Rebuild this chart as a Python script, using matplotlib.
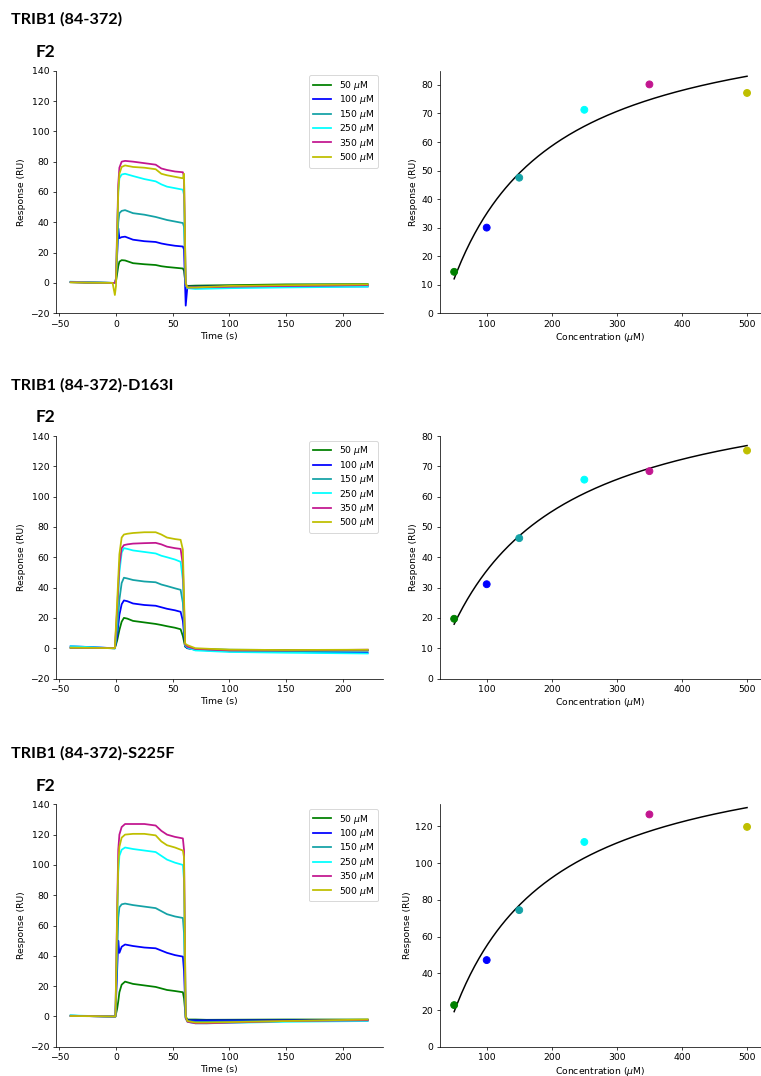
import numpy as np
import matplotlib
matplotlib.use("Agg")
import matplotlib.pyplot as plt

# ---------------------------------------------------------------- data
concentrations = [50, 100, 150, 250, 350, 500]          # analyte, uM
series_colors = ["green", "blue", "#14a2a6", "cyan", "#c2168f", "#bfbf00"]
panel_titles = ["TRIB1 (84-372)", "TRIB1 (84-372)-D163I", "TRIB1 (84-372)-S225F"]
channel_label = "F2"

# sensorgrams, wild type: time knots (s) and responses (RU) per concentration
time_wt = [-40, -20, -3, -1, 0, 1, 2, 3, 5, 8, 15, 25, 35, 40, 45, 52, 59, 60, 61.5, 63, 70, 100, 150, 222]
resp_wt_50 = [0.5, 0.2, 0, 0, 1, 6, 11, 14, 15, 14.8, 13, 12.3, 11.8, 11, 10.5, 10, 9.5, 8, -1.5, -2, -1.8, -1.5, -1, -0.8]
resp_wt_100 = [0.5, 0.2, 0, 0, 2, 18, 36, 29.5, 30.2, 30.5, 28.5, 27.5, 27, 26, 25.3, 24.5, 24, 22, -15, -2.5, -2.5, -2.3, -2.3, -2.3]
resp_wt_150 = [0.5, 0.2, 0, 0, 2, 20, 40, 46, 47.5, 48, 46, 45, 43.5, 42.5, 41.5, 40.5, 39.5, 37, -2, -3, -3, -2.5, -2, -1.5]
resp_wt_250 = [0.8, 0.3, 0, 0, 3, 30, 60, 69, 71.5, 72, 70.5, 68.5, 67, 65, 63.5, 62.5, 61.5, 58, -1, -3.5, -4, -3.5, -3, -2.5]
resp_wt_350 = [0.5, 0.2, 0, 0, 3, 35, 65, 76, 80, 80.5, 80, 79, 78, 75.5, 74.5, 73.5, 73, 70, -1, -3, -3, -2.5, -2, -1.5]
resp_wt_500 = [0.3, 0.1, 0, -8, -2, 30, 60, 72, 76.5, 77.5, 76.5, 76, 75, 72, 71, 70, 69, 72, 0, -3, -3, -2, -1.5, -1]

# sensorgrams, D163I
time_d163i = [-40, -20, -3, -1, 1, 3, 5, 7, 10, 15, 25, 35, 40, 45, 52, 57, 59, 61, 63, 70, 100, 150, 222]
resp_d163i_50 = [0.3, 0.2, 0, 0, 5, 12, 17.5, 20, 19.5, 18, 17, 16, 15.3, 14.5, 13.5, 12.5, 8, 1, 0, -0.5, -1, -1.2, -1.5]
resp_d163i_100 = [1.2, 0.7, 0, 0, 8, 22, 29, 31.5, 31, 29.5, 28.5, 28, 27, 26, 25, 24, 18, 1.5, 0, -1, -2, -2.5, -3]
resp_d163i_150 = [0.3, 0.2, 0, 0, 12, 32, 43, 46.5, 46, 45, 44, 43.5, 42, 41, 39.5, 38.5, 30, 2, 0.5, -1, -2, -2, -1.5]
resp_d163i_250 = [1.3, 0.6, 0, -0.3, 20, 50, 63, 66, 65.5, 64.5, 63.5, 62.5, 61, 60, 58.5, 57, 45, 2, 0.5, -1.5, -2.5, -3, -3.5]
resp_d163i_350 = [0.3, 0.2, 0, 0, 25, 55, 66, 68, 68.5, 69, 69.3, 69.5, 68.5, 67, 66, 65.5, 55, 2.5, 1, -0.5, -1.5, -1.5, -1]
resp_d163i_500 = [0.3, 0.2, 0, 0, 30, 62, 73, 75, 75.5, 76, 76.5, 76.5, 75, 73, 72, 71.5, 65, 3, 2, 0, -1, -1.2, -1]

# sensorgrams, S225F
time_s225f = [-40, -20, -2, -0.5, 1, 2, 3, 5, 8, 15, 25, 35, 40, 45, 52, 59, 60, 61.5, 63, 70, 80, 150, 222]
resp_s225f_50 = [0.5, 0.2, 0, 0, 5, 10, 16, 21, 23, 21.5, 20.5, 19.5, 18.5, 17.5, 16.8, 16, 12, 0, -2, -2, -2.2, -2, -2]
resp_s225f_100 = [0.5, 0.2, 0, 0, 30, 50, 42, 46, 47.5, 46.5, 45.5, 45, 43.5, 42, 40.5, 39.5, 30, -1, -2.5, -2.5, -2.5, -2.5, -2.5]
resp_s225f_150 = [0.5, 0.2, 0, 0, 40, 65, 72, 74, 74.5, 73.5, 72.5, 71.5, 69.5, 67.5, 66, 65, 55, -1, -3, -3.5, -3.5, -3, -2.5]
resp_s225f_250 = [0.7, 0.3, 0, 0, 60, 95, 106, 110, 111.5, 110.5, 109.5, 108.5, 106, 103.5, 101.5, 100, 90, -1, -3.5, -4.5, -4.5, -3.5, -3]
resp_s225f_350 = [0.3, 0.2, 0, 0, 70, 110, 120, 125, 127, 127, 127, 126, 122.5, 120, 118.5, 117.5, 110, -1, -3.5, -4.5, -4.5, -3, -2.5]
resp_s225f_500 = [0.3, 0.2, 0, 0, 65, 100, 112, 118, 120, 120.5, 120.5, 119.5, 115.5, 113, 111.5, 109.5, 105, 0, -3, -4, -4, -3, -2]

# steady-state responses (RU) per concentration
steady_wt = [14.5, 30.0, 47.5, 71.3, 80.2, 77.2]
steady_d163i = [19.7, 31.1, 46.3, 65.6, 68.4, 75.2]
steady_s225f = [22.7, 47.2, 74.4, 111.5, 126.5, 119.7]

# fitted binding isotherm parameters: Rmax (RU), KD (uM), offset (RU)
fit_wt = (140.0, 110.0, -31.7)
fit_d163i = (113.9, 136.0, -12.7)
fit_s225f = (219.0, 110.0, -49.3)

steady_ylim = [(0, 85), (0, 80), (0, 132)]

# ---------------------------------------------------------------- figure
W, H, DPI = 761, 1076, 67
fig = plt.figure(figsize=(W / DPI, H / DPI), dpi=DPI)


def axes_px(x0, y0, x1, y1):
    return fig.add_axes([x0 / W, 1 - y1 / H, (x1 - x0) / W, (y1 - y0) / H])


panels = [
    (time_wt, [resp_wt_50, resp_wt_100, resp_wt_150, resp_wt_250, resp_wt_350, resp_wt_500],
     steady_wt, fit_wt),
    (time_d163i, [resp_d163i_50, resp_d163i_100, resp_d163i_150, resp_d163i_250, resp_d163i_350, resp_d163i_500],
     steady_d163i, fit_d163i),
    (time_s225f, [resp_s225f_50, resp_s225f_100, resp_s225f_150, resp_s225f_250, resp_s225f_350, resp_s225f_500],
     steady_s225f, fit_s225f),
]

row_tops = [70.7, 436.0, 804.3]
row_height = 242.5

for i, (times, curves, steady, fit) in enumerate(panels):
    top = row_tops[i]
    bottom = top + row_height

    # panel headings
    fig.text(11 / W, 1 - (top - 51) / H, panel_titles[i], family="Lato",
             weight="bold", fontsize=17.5, ha="left", va="center")
    fig.text(36 / W, 1 - (top - 18.5) / H, channel_label, family="Lato",
             weight="bold", fontsize=18.5, ha="left", va="center")

    # sensorgram
    ax = axes_px(55.8, top, 382.5, bottom)
    for c, resp, col in zip(concentrations, curves, series_colors):
        ax.plot(times, resp, color=col, lw=1.9, label=f"{c} $\\mu$M")
    ax.set_ylim(-20, 140)
    ax.set_yticks(range(-20, 141, 20))
    ax.set_xticks([-50, 0, 50, 100, 150, 200])
    ax.set_ylabel("Response (RU)")
    ax.set_xlabel("Time (s)", labelpad=3)
    ax.legend(loc="upper right", labelspacing=0.15)
    for s in ("top", "right"):
        ax.spines[s].set_visible(False)

    # steady-state binding fit
    bx = axes_px(439.5, top, 761.7, bottom)
    rmax, kd, off = fit
    conc_fit = np.linspace(concentrations[0], concentrations[-1], 200)
    bx.plot(conc_fit, rmax * conc_fit / (kd + conc_fit) + off, color="black", lw=1.6)
    bx.scatter(concentrations, steady, c=series_colors, s=55, zorder=3)
    bx.set_xlim(27.5, 522.5)
    bx.set_ylim(*steady_ylim[i])
    bx.set_xticks([100, 200, 300, 400, 500])
    bx.set_ylabel("Response (RU)")
    bx.set_xlabel("Concentration ($\\mu$M)", labelpad=2.5)
    for s in ("top", "right"):
        bx.spines[s].set_visible(False)

fig.savefig("out.png", dpi=DPI)
